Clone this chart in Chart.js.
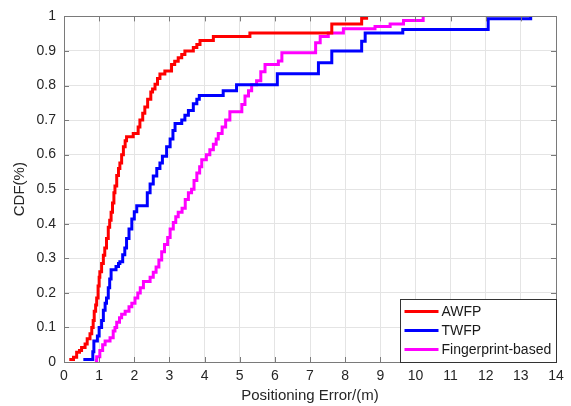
<!DOCTYPE html>
<html>
<head>
    <meta charset="UTF-8">
    <title>Positioning Error CDF</title>
    <script src="https://cdn.jsdelivr.net/npm/chart.js@4.4.0/dist/chart.umd.min.js"></script>
    <style>
        body {
            margin: 0;
            background: white;
        }
    </style>
</head>
<body>
<canvas id="cdfChart" width="571" height="406"></canvas>

<script>
    // Empirical CDF steps: error (m) and cumulative fraction
    const awfpX = [0.15, 0.27, 0.36, 0.44, 0.50, 0.60, 0.66, 0.74, 0.79, 0.83, 0.86, 0.90, 0.93, 0.97, 1.00, 1.02, 1.07, 1.12, 1.16, 1.21, 1.26, 1.30, 1.34, 1.38, 1.42, 1.45, 1.50, 1.55, 1.59, 1.64, 1.69, 1.74, 1.78, 1.97, 2.11, 2.16, 2.24, 2.30, 2.38, 2.47, 2.52, 2.59, 2.66, 2.73, 2.87, 3.06, 3.15, 3.25, 3.35, 3.44, 3.68, 3.78, 3.87, 4.25, 5.29, 7.62, 8.47, 8.61];
    const awfpY = [0.007, 0.014, 0.028, 0.033, 0.042, 0.052, 0.067, 0.082, 0.10, 0.12, 0.147, 0.165, 0.185, 0.22, 0.245, 0.261, 0.285, 0.309, 0.33, 0.357, 0.39, 0.41, 0.433, 0.46, 0.49, 0.509, 0.54, 0.56, 0.576, 0.60, 0.623, 0.64, 0.652, 0.661, 0.68, 0.70, 0.72, 0.738, 0.76, 0.781, 0.79, 0.804, 0.82, 0.833, 0.842, 0.861, 0.87, 0.88, 0.89, 0.90, 0.91, 0.919, 0.93, 0.942, 0.952, 0.978, 0.995, 1.0];

    const twfpX = [0.55, 0.82, 0.85, 0.95, 1.00, 1.07, 1.12, 1.17, 1.21, 1.26, 1.30, 1.34, 1.48, 1.55, 1.59, 1.67, 1.73, 1.78, 1.85, 1.93, 2.00, 2.07, 2.37, 2.45, 2.54, 2.64, 2.73, 2.80, 2.92, 3.02, 3.10, 3.16, 3.35, 3.44, 3.54, 3.68, 3.78, 3.85, 4.53, 4.91, 6.07, 7.24, 7.62, 8.47, 8.57, 9.64, 12.07, 13.28];
    const twfpY = [0.007, 0.03, 0.061, 0.075, 0.10, 0.12, 0.15, 0.17, 0.185, 0.215, 0.24, 0.267, 0.276, 0.285, 0.29, 0.31, 0.33, 0.357, 0.385, 0.414, 0.435, 0.452, 0.49, 0.515, 0.538, 0.56, 0.576, 0.595, 0.623, 0.645, 0.67, 0.69, 0.70, 0.714, 0.728, 0.747, 0.76, 0.771, 0.785, 0.802, 0.834, 0.866, 0.90, 0.928, 0.952, 0.962, 0.993, 1.0];

    const fpX = [0.88, 0.93, 1.02, 1.10, 1.17, 1.31, 1.40, 1.45, 1.50, 1.58, 1.64, 1.74, 1.85, 1.93, 2.02, 2.10, 2.17, 2.26, 2.45, 2.54, 2.62, 2.70, 2.78, 2.86, 2.95, 3.02, 3.11, 3.18, 3.25, 3.36, 3.45, 3.54, 3.63, 3.70, 3.78, 3.86, 3.92, 4.05, 4.15, 4.25, 4.33, 4.39, 4.50, 4.60, 4.72, 5.06, 5.15, 5.25, 5.34, 5.48, 5.60, 5.72, 6.10, 6.20, 7.16, 7.29, 7.52, 7.95, 8.85, 9.28, 9.66, 10.22];
    const fpY = [0.004, 0.015, 0.033, 0.05, 0.061, 0.07, 0.09, 0.10, 0.115, 0.128, 0.138, 0.147, 0.16, 0.17, 0.185, 0.20, 0.215, 0.233, 0.245, 0.26, 0.275, 0.295, 0.319, 0.34, 0.36, 0.385, 0.404, 0.42, 0.433, 0.445, 0.47, 0.49, 0.50, 0.525, 0.547, 0.565, 0.585, 0.60, 0.614, 0.63, 0.645, 0.661, 0.68, 0.70, 0.724, 0.745, 0.77, 0.785, 0.802, 0.814, 0.84, 0.861, 0.871, 0.895, 0.924, 0.942, 0.952, 0.964, 0.971, 0.978, 0.988, 1.0];

    const seriesNames = ['AWFP', 'TWFP', 'Fingerprint-based'];
    const seriesColors = ['#ff0000', '#0000ff', '#ff00ff'];

    const xTicks = [0, 1, 2, 3, 4, 5, 6, 7, 8, 9, 10, 11, 12, 13, 14];
    const yTicks = [0, 0.1, 0.2, 0.3, 0.4, 0.5, 0.6, 0.7, 0.8, 0.9, 1];
    const yTickLabels = ['0', '0.1', '0.2', '0.3', '0.4', '0.5', '0.6', '0.7', '0.8', '0.9', '1'];

    const FONT = 'Arial, "Liberation Sans", sans-serif';
    const FRAME = '#7a7a7a';

    function toPoints(xs, ys) {
        return xs.map((x, i) => ({ x: x, y: ys[i] }));
    }

    // Axes box with inward ticks on all four sides, plus the boxed legend
    const frameAndLegend = {
        id: 'frameAndLegend',
        afterDatasetsDraw(chart) {
            const ctx = chart.ctx;
            const a = chart.chartArea;
            const xs = chart.scales.x;
            const ys = chart.scales.y;
            const tick = 5;

            ctx.save();
            ctx.strokeStyle = FRAME;
            ctx.lineWidth = 1;
            ctx.beginPath();
            xTicks.forEach(v => {
                const px = Math.round(xs.getPixelForValue(v)) + 0.5;
                ctx.moveTo(px, a.bottom);
                ctx.lineTo(px, a.bottom - tick);
                ctx.moveTo(px, a.top);
                ctx.lineTo(px, a.top + tick);
            });
            yTicks.forEach(v => {
                const py = Math.round(ys.getPixelForValue(v)) + 0.5;
                ctx.moveTo(a.left, py);
                ctx.lineTo(a.left + tick, py);
                ctx.moveTo(a.right, py);
                ctx.lineTo(a.right - tick, py);
            });
            ctx.stroke();
            ctx.strokeRect(Math.round(a.left) + 0.5, Math.round(a.top) + 0.5,
                Math.round(a.right - a.left), Math.round(a.bottom - a.top));

            // legend in the lower right corner
            const bw = 156, bh = 63;
            const bx = Math.round(a.right) - bw + 0.5;
            const by = Math.round(a.bottom) - bh + 0.5;
            ctx.fillStyle = 'white';
            ctx.fillRect(bx, by, bw, bh);
            ctx.strokeStyle = '#333';
            ctx.strokeRect(bx, by, bw, bh);
            ctx.font = '14px ' + FONT;
            ctx.textBaseline = 'middle';
            chart.data.datasets.forEach((ds, i) => {
                const ly = by + 12 + i * 19;
                ctx.strokeStyle = ds.borderColor;
                ctx.lineWidth = 3;
                ctx.beginPath();
                ctx.moveTo(bx + 4, ly);
                ctx.lineTo(bx + 38, ly);
                ctx.stroke();
                ctx.fillStyle = '#1a1a1a';
                ctx.fillText(ds.label, bx + 41, ly + 1);
            });
            ctx.restore();
        }
    };

    const ctx = document.getElementById('cdfChart').getContext('2d');
    const chart = new Chart(ctx, {
        type: 'line',
        data: {
            datasets: [
                { label: seriesNames[0], data: toPoints(awfpX, awfpY), borderColor: seriesColors[0] },
                { label: seriesNames[1], data: toPoints(twfpX, twfpY), borderColor: seriesColors[1] },
                { label: seriesNames[2], data: toPoints(fpX, fpY), borderColor: seriesColors[2] }
            ]
        },
        options: {
            responsive: false,
            animation: false,
            layout: {
                padding: { top: 12, right: 15, left: 0, bottom: 0 }
            },
            elements: {
                line: { borderWidth: 3, stepped: true, fill: false, borderCapStyle: 'butt' },
                point: { radius: 0 }
            },
            plugins: {
                legend: { display: false },
                tooltip: { enabled: false }
            },
            scales: {
                x: {
                    type: 'linear',
                    min: 0,
                    max: 14,
                    afterBuildTicks: s => { s.ticks = xTicks.map(v => ({ value: v })); },
                    afterFit: s => { s.height = 44; },
                    grid: { color: '#e4e4e4', drawTicks: false },
                    border: { display: false },
                    ticks: {
                        padding: 6,
                        maxRotation: 0,
                        color: '#262626',
                        font: { family: FONT, size: 14 },
                        callback: v => String(v)
                    },
                    title: {
                        display: true,
                        text: 'Positioning Error/(m)',
                        color: '#262626',
                        font: { family: FONT, size: 15 },
                        padding: { top: 0, bottom: 1 }
                    }
                },
                y: {
                    type: 'linear',
                    min: 0,
                    max: 1,
                    afterBuildTicks: s => { s.ticks = yTicks.map(v => ({ value: v })); },
                    afterFit: s => { s.width = 64; },
                    grid: { color: '#e4e4e4', drawTicks: false },
                    border: { display: false },
                    ticks: {
                        padding: 8,
                        color: '#262626',
                        font: { family: FONT, size: 14 },
                        callback: (v, i) => yTickLabels[i]
                    },
                    title: {
                        display: true,
                        text: 'CDF(%)',
                        color: '#262626',
                        font: { family: FONT, size: 15 },
                        padding: { top: 11, bottom: 0 }
                    }
                }
            }
        },
        plugins: [frameAndLegend]
    });
</script>
</body>
</html>
